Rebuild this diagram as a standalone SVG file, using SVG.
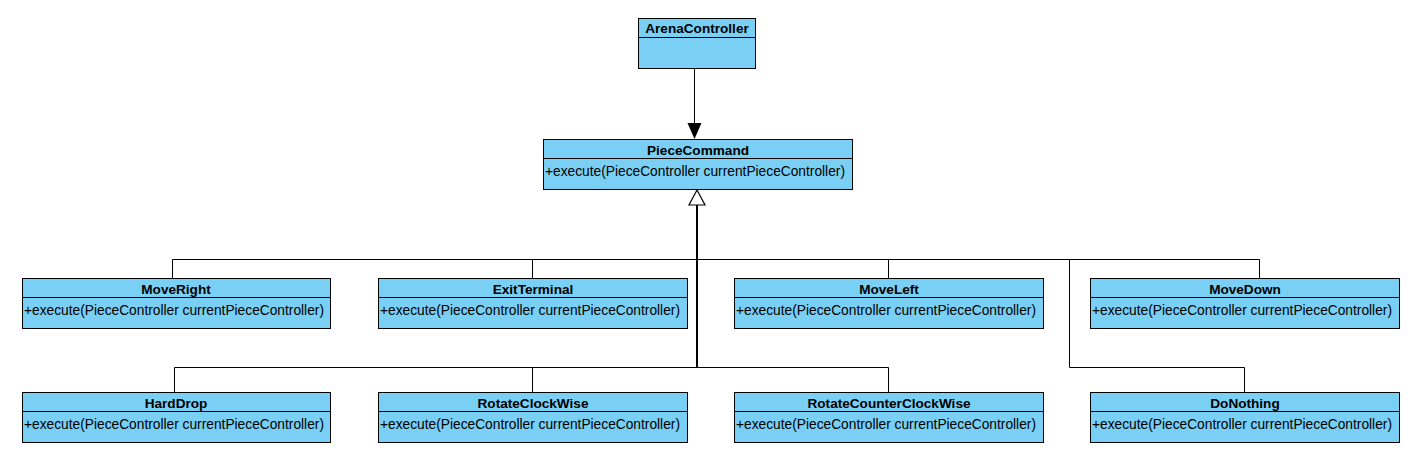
<svg xmlns="http://www.w3.org/2000/svg" width="1419" height="450" viewBox="0 0 1419 450">
<style>
.box{fill:#7ACFF5;stroke:#000;stroke-width:1}
.div{stroke:#000;stroke-width:1}
.name{font-family:"Liberation Sans",Arial,sans-serif;font-size:13.6px;font-weight:bold;text-anchor:middle;fill:#000}
.op{font-family:"Liberation Sans",Arial,sans-serif;font-size:13.75px;fill:#000}
.edge{fill:none;stroke:#000;stroke-width:1}
</style>
<rect width="1419" height="450" fill="#fff"/>
<g id="connectors">
<line class="edge" x1="694.5" y1="68" x2="694.5" y2="124"/>
<polygon points="687.5,123 701.5,123 694.5,139" fill="#000"/>
<line x1="697" y1="205" x2="697" y2="367.5" stroke="#000" stroke-width="2"/>
<polyline class="edge" points="697,259.5 172.5,259.5 172.5,278"/>
<polyline class="edge" points="532.5,259.5 532.5,278"/>
<polyline class="edge" points="697,259.5 1259.5,259.5 1259.5,278"/>
<polyline class="edge" points="888.5,259.5 888.5,278"/>
<polyline class="edge" points="1069.5,259.5 1069.5,367.5 1244.5,367.5 1244.5,392"/>
<polyline class="edge" points="888.5,392 888.5,367.5 174.5,367.5 174.5,392"/>
<polyline class="edge" points="532.5,367.5 532.5,392"/>
<polygon points="689,205 705,205 697,190" fill="#fff" stroke="#000" stroke-width="1.2"/>
</g>
<g id="ArenaController">
<rect class="box" x="638.5" y="18.5" width="117" height="50"/>
<line class="div" x1="638.5" y1="37.5" x2="755.5" y2="37.5"/>
<text class="name" x="697" y="33">ArenaController</text>
</g>
<g id="PieceCommand">
<rect class="box" x="543.5" y="139.5" width="309" height="50"/>
<line class="div" x1="543.5" y1="158.5" x2="852.5" y2="158.5"/>
<text class="name" x="698" y="154.5">PieceCommand</text>
<text class="op" x="545" y="176">+execute(PieceController currentPieceController)</text>
</g>
<g id="MoveRight">
<rect class="box" x="22.5" y="278.5" width="308" height="50"/>
<line class="div" x1="22.5" y1="297.5" x2="330.5" y2="297.5"/>
<text class="name" x="176" y="293.5">MoveRight</text>
<text class="op" x="24" y="315">+execute(PieceController currentPieceController)</text>
</g>
<g id="ExitTerminal">
<rect class="box" x="378.5" y="278.5" width="309" height="50"/>
<line class="div" x1="378.5" y1="297.5" x2="687.5" y2="297.5"/>
<text class="name" x="533" y="293.5">ExitTerminal</text>
<text class="op" x="380" y="315">+execute(PieceController currentPieceController)</text>
</g>
<g id="MoveLeft">
<rect class="box" x="734.5" y="278.5" width="309" height="50"/>
<line class="div" x1="734.5" y1="297.5" x2="1043.5" y2="297.5"/>
<text class="name" x="889" y="293.5">MoveLeft</text>
<text class="op" x="736" y="315">+execute(PieceController currentPieceController)</text>
</g>
<g id="MoveDown">
<rect class="box" x="1090.5" y="278.5" width="309" height="50"/>
<line class="div" x1="1090.5" y1="297.5" x2="1399.5" y2="297.5"/>
<text class="name" x="1245" y="293.5">MoveDown</text>
<text class="op" x="1092" y="315">+execute(PieceController currentPieceController)</text>
</g>
<g id="HardDrop">
<rect class="box" x="22.5" y="392.5" width="308" height="50"/>
<line class="div" x1="22.5" y1="411.5" x2="330.5" y2="411.5"/>
<text class="name" x="176" y="407.5">HardDrop</text>
<text class="op" x="24" y="429">+execute(PieceController currentPieceController)</text>
</g>
<g id="RotateClockWise">
<rect class="box" x="378.5" y="392.5" width="309" height="50"/>
<line class="div" x1="378.5" y1="411.5" x2="687.5" y2="411.5"/>
<text class="name" x="533" y="407.5">RotateClockWise</text>
<text class="op" x="380" y="429">+execute(PieceController currentPieceController)</text>
</g>
<g id="RotateCounterClockWise">
<rect class="box" x="734.5" y="392.5" width="309" height="50"/>
<line class="div" x1="734.5" y1="411.5" x2="1043.5" y2="411.5"/>
<text class="name" x="889" y="407.5">RotateCounterClockWise</text>
<text class="op" x="736" y="429">+execute(PieceController currentPieceController)</text>
</g>
<g id="DoNothing">
<rect class="box" x="1090.5" y="392.5" width="309" height="50"/>
<line class="div" x1="1090.5" y1="411.5" x2="1399.5" y2="411.5"/>
<text class="name" x="1245" y="407.5">DoNothing</text>
<text class="op" x="1092" y="429">+execute(PieceController currentPieceController)</text>
</g>
</svg>
